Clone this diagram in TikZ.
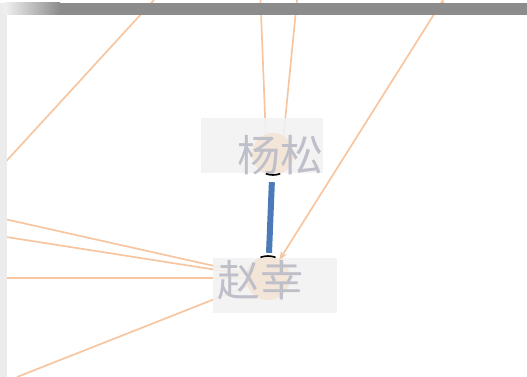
\documentclass[tikz,border=0pt]{standalone}
\usepackage{fontspec}
\newfontfamily\cjk{Noto Sans CJK SC}
\usetikzlibrary{arrows.meta}
\definecolor{edgeorange}{HTML}{F7C6A0}
\definecolor{edgeblue}{HTML}{4A7AB8}
\definecolor{labelgray}{HTML}{BEBFC8}
\definecolor{vfill}{HTML}{F4E2D2}
\definecolor{barcolor}{HTML}{8C8C8C}
\begin{document}
\begin{tikzpicture}[x=1pt, y=-1pt,
    vtx/.style={circle, minimum size=42pt, inner sep=0pt},
    orange/.style={draw=edgeorange, line width=1.7pt},
    lbl/.style={text=labelgray, inner sep=0pt, font=\cjk\fontsize{43}{43}\selectfont}]
    \useasboundingbox (0,0) rectangle (527,377);
    \node[vtx] (v1) at (273,154) {};
    \node[vtx] (v2) at (268,278) {};
    \coordinate (c1) at (154,0);
    \coordinate (c2) at (0,168);
    \coordinate (c3) at (260.5,0);
    \coordinate (c4) at (297,0);
    \coordinate (c5) at (443,0);
    \coordinate (c6) at (0,218);
    \coordinate (c7) at (0,236);
    \coordinate (c8) at (0,278);
    \coordinate (c9) at (17,377);
    \path[orange] (c1) edge (c2);
    \path[orange] (c3) edge (v1.110) (c4) edge (v1.60);
    \path[orange] (c6) edge (v2.center) (c7) edge (v2.center) (c8) edge (v2.center) (c9) edge (v2.center);
    \fill[gray!10, opacity=.9] (201,118) rectangle (323,173);
    \fill[gray!10, opacity=.9] (213,258) rectangle (337,313);
    \fill[vfill, opacity=.8] (v1) circle (21);
    \fill[vfill, opacity=.8] (v2) circle (22);
    \node[lbl] (t1) at (280,155) {杨松};
    \node[lbl] (t2) at (260,280) {赵幸};
    \draw[black, line width=1.6pt] ([shift={(70:21)}]v1.center) arc (70:110:21);
    \draw[black, line width=1.6pt] ([shift={(250:22)}]v2.center) arc (250:290:22);
    \path[draw=edgeblue, line width=6pt, shorten <=7pt, shorten >=4pt] (v1) edge (v2);
    \path[orange, -{Stealth[length=9pt, width=7pt]}] (c5) edge (v2);
    \fill[gray!15] (0,3) rectangle (7,377);
    \fill[barcolor] (60,3) rectangle (527,15);
    \shade[left color=gray!12, right color=barcolor] (5,3) rectangle (60,15);
  \end{tikzpicture}
\end{document}
